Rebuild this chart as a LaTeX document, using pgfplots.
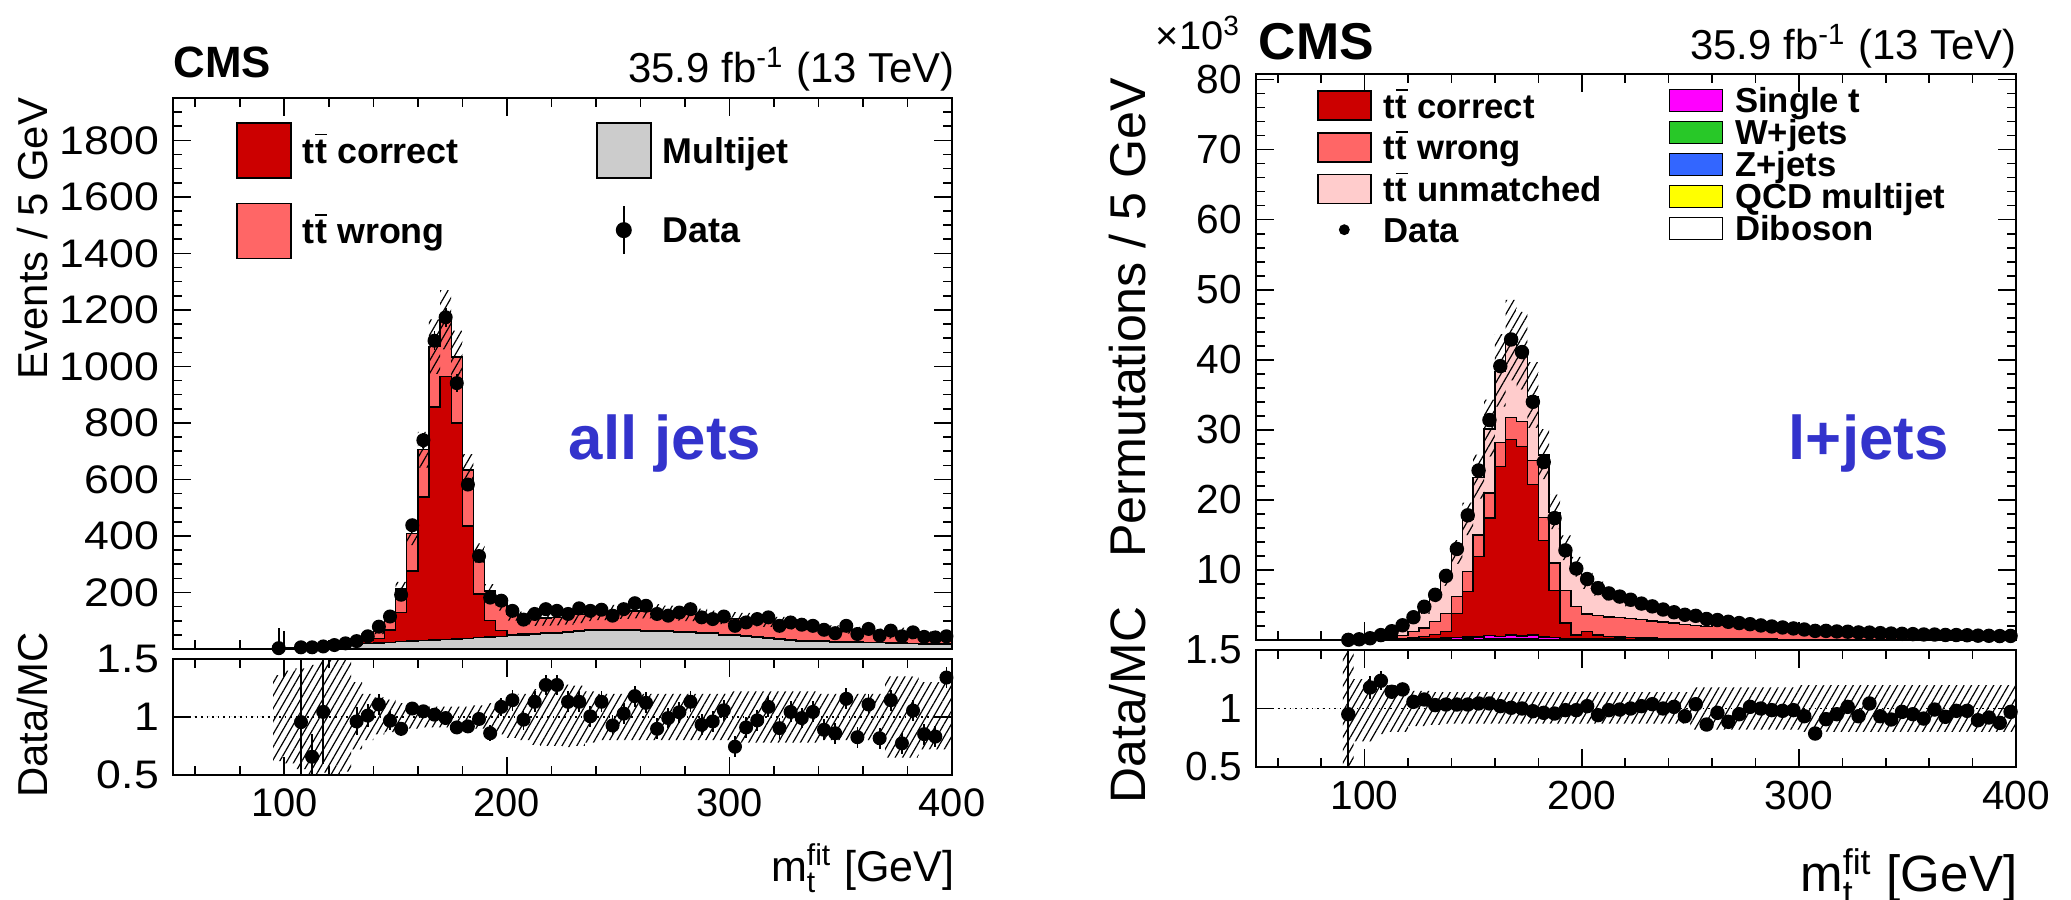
\documentclass[border=0pt]{standalone}
\usepackage{fontspec}
\setmainfont{Liberation Sans}
\usepackage{amsmath}
\usepackage{graphicx}
\usepackage{pgfplots}
\pgfplotsset{compat=1.18}
\usepackage{pgfplotstable}
\usetikzlibrary{patterns.meta}

\definecolor{ttcor}{RGB}{204,0,0}
\definecolor{ttwr}{RGB}{255,102,102}
\definecolor{ttun}{RGB}{255,204,204}
\definecolor{mj}{RGB}{204,204,204}
\definecolor{cmsblue}{RGB}{51,51,204}
\definecolor{sgt}{RGB}{255,0,255}
\definecolor{wj}{RGB}{40,200,40}
\definecolor{zj}{RGB}{51,102,255}
\definecolor{qcd}{RGB}{255,255,0}

% ---------------- all jets: stack (cumulative tops) ----------------
\pgfplotstableread{
x T C M lo hi
50 0 0 0 1 1
95 2 2 2 0.62 1.36
100 4 3 3 0.60 1.40
105 6 5 5 0.55 1.42
110 9 8 7 0.50 1.45
115 9 8 7 0.52 1.50
120 13 11 10 0.50 1.50
125 19 16 13 0.53 1.50
130 29 23 17 0.72 1.30
135 44 32 19 0.80 1.20
140 62 37 21 0.85 1.17
145 118 67 23 0.87 1.15
150 212 129 26 0.89 1.12
155 408 276 28 0.90 1.10
160 705 538 30 0.91 1.09
165 1070 857 32 0.91 1.09
170 1165 965 34 0.91 1.09
175 1034 800 36 0.91 1.09
180 633 435 38 0.91 1.09
185 340 194 40 0.90 1.10
190 205 100 42 0.88 1.12
195 160 65 44 0.85 1.15
200 122 52 47 0.82 1.18
205 110 54 50 0.80 1.20
210 108 55 52 0.76 1.24
215 110 57 54 0.75 1.27
220 112 59 56 0.75 1.27
225 116 62 60 0.74 1.28
230 122 65 63 0.75 1.27
235 126 67 65 0.78 1.22
240 128 68 66 0.80 1.20
245 130 69 67 0.80 1.20
250 133 68 66 0.80 1.20
255 135 67 65 0.80 1.20
260 135 66 64 0.80 1.20
265 132 65 63 0.80 1.20
270 128 64 62 0.80 1.20
275 125 62 60 0.80 1.20
280 123 61 59 0.80 1.20
285 119 59 57 0.80 1.20
290 113 56 54 0.80 1.20
295 110 52 50 0.80 1.20
300 107 49 47 0.78 1.22
305 105 46 44 0.78 1.22
310 103 42 40 0.78 1.22
315 100 39 37 0.78 1.22
320 93 36 34 0.78 1.22
325 89 33 31 0.78 1.22
330 86 31 29 0.78 1.22
335 80 29 27 0.78 1.22
340 76 28 26 0.80 1.20
345 70 27 25 0.80 1.20
350 68 26 24 0.80 1.20
355 65 25 24 0.80 1.20
360 63 24 23 0.80 1.20
365 60 23 22 0.80 1.20
370 57 22 21 0.65 1.35
375 56 21 20 0.65 1.35
380 54 20 19 0.65 1.35
385 51 19 18 0.72 1.30
390 48 18 17 0.72 1.30
395 45 17 16 0.72 1.30
400 45 17 16 0.72 1.30
}\lefttab

\pgfplotstableread{
x y ep em
97.5 3 70 3
107.5 6 3 3
112.5 6 3 3
117.5 9 3 3
122.5 14 4 4
127.5 20 5 5
132.5 28 5 5
137.5 45 7 7
142.5 79 9 9
147.5 115 11 11
152.5 192 14 14
157.5 438 21 21
162.5 739 27 27
167.5 1091 33 33
172.5 1174 34 34
177.5 941 31 31
182.5 582 24 24
187.5 329 18 18
192.5 182 13 13
197.5 171 13 13
202.5 135 12 12
207.5 104 10 10
212.5 124 11 11
217.5 141 12 12
222.5 135 12 12
227.5 124 11 11
232.5 144 12 12
237.5 135 12 12
242.5 139 12 12
247.5 118 11 11
252.5 141 12 12
257.5 162 13 13
262.5 153 12 12
267.5 124 11 11
272.5 118 11 11
277.5 129 11 11
282.5 141 12 12
287.5 112 11 11
292.5 106 10 10
297.5 115 11 11
302.5 82 9 9
307.5 94 10 10
312.5 106 10 10
317.5 112 11 11
322.5 82 9 9
327.5 94 10 10
332.5 86 9 9
337.5 82 9 9
342.5 68 8 8
347.5 56 7 7
352.5 82 9 9
357.5 53 7 7
362.5 71 8 8
367.5 47 7 7
372.5 65 8 8
377.5 45 7 7
382.5 59 8 8
387.5 43 7 7
392.5 41 6 6
397.5 45 7 7
}\leftdata

\pgfplotstableread{
x y e
107.5 0.956 0.60
112.5 0.657 0.20
117.5 1.044 0.45
132.5 0.962 0.12
137.5 1.012 0.10
142.5 1.108 0.09
147.5 0.968 0.08
152.5 0.898 0.06
157.5 1.073 0.05
162.5 1.049 0.04
167.5 1.020 0.04
172.5 0.991 0.04
177.5 0.910 0.04
182.5 0.919 0.05
187.5 0.983 0.06
192.5 0.860 0.07
197.5 1.087 0.08
202.5 1.145 0.09
207.5 0.977 0.09
212.5 1.131 0.09
217.5 1.276 0.09
222.5 1.276 0.09
227.5 1.131 0.09
232.5 1.131 0.09
237.5 1.006 0.09
242.5 1.131 0.09
247.5 0.927 0.09
252.5 1.029 0.09
257.5 1.180 0.09
262.5 1.122 0.09
267.5 0.898 0.09
272.5 0.991 0.09
277.5 1.041 0.09
282.5 1.131 0.09
287.5 0.933 0.09
292.5 0.962 0.09
297.5 1.058 0.09
302.5 0.744 0.09
307.5 0.910 0.09
312.5 0.971 0.09
317.5 1.087 0.09
322.5 0.904 0.09
327.5 1.044 0.09
332.5 0.991 0.09
337.5 1.044 0.09
342.5 0.890 0.09
347.5 0.860 0.09
352.5 1.157 0.09
357.5 0.826 0.09
362.5 1.108 0.09
367.5 0.817 0.09
372.5 1.145 0.09
377.5 0.773 0.09
382.5 1.055 0.09
387.5 0.852 0.09
392.5 0.831 0.09
397.5 1.340 0.09
}\leftratio

% ---------------- l+jets: stack (cumulative tops, x10^3) ----------------
\pgfplotstableread{
x T W C S Q lo hi
50 0 0 0 0 0 1 1
90 0.05 0.02 0.01 0.01 0 0.50 1.50
95 0.15 0.06 0.02 0.01 0 0.72 1.25
100 0.21 0.08 0.03 0.02 0 0.72 1.25
105 0.57 0.20 0.06 0.03 0.01 0.78 1.22
110 1.10 0.40 0.12 0.05 0.02 0.80 1.20
115 1.80 0.65 0.22 0.08 0.03 0.80 1.20
120 3.05 1.20 0.35 0.12 0.04 0.85 1.15
125 4.40 1.70 0.50 0.18 0.05 0.85 1.15
130 6.30 2.60 0.75 0.25 0.07 0.86 1.14
135 8.90 3.80 1.20 0.30 0.10 0.87 1.14
140 12.5 6.20 3.80 0.35 0.10 0.87 1.14
145 17.2 9.80 6.90 0.40 0.12 0.87 1.14
150 23.2 15.0 11.9 0.45 0.10 0.87 1.14
155 30.1 21.0 17.4 0.65 0.20 0.87 1.14
160 38.3 28.2 24.8 0.50 0.15 0.87 1.14
165 42.6 31.8 28.6 0.70 0.20 0.87 1.14
170 41.1 31.2 27.6 0.55 0.15 0.87 1.14
175 34.8 25.6 22.2 0.70 0.20 0.87 1.14
180 26.4 17.5 14.2 0.45 0.10 0.87 1.14
185 18.2 11.0 7.10 0.35 0.10 0.87 1.14
190 13.1 7.10 2.40 0.25 0.05 0.87 1.14
195 10.4 4.80 0.70 0.20 0.05 0.87 1.14
200 8.40 3.70 1.20 0.20 0.05 0.87 1.14
205 7.30 3.50 0.70 0.15 0.05 0.87 1.14
210 6.50 3.30 0.50 0.12 0.04 0.87 1.14
215 6.00 3.20 0.40 0.12 0.04 0.87 1.14
220 5.50 3.10 0.35 0.10 0.03 0.87 1.14
225 5.00 2.90 0.30 0.10 0.03 0.87 1.14
230 4.60 2.70 0.28 0.10 0.03 0.87 1.14
235 4.20 2.55 0.25 0.10 0.03 0.87 1.14
240 3.85 2.40 0.22 0.08 0.03 0.87 1.14
245 3.55 2.25 0.20 0.08 0.03 0.87 1.14
250 3.30 2.10 0.20 0.08 0.03 0.82 1.18
255 3.05 1.95 0.18 0.08 0.06 0.82 1.18
260 2.80 2.20 0.17 0.07 0.03 0.82 1.18
265 2.58 2.05 0.16 0.07 0.06 0.82 1.18
270 2.38 1.90 0.15 0.07 0.03 0.82 1.18
275 2.20 1.77 0.14 0.06 0.03 0.82 1.18
280 2.03 1.65 0.13 0.06 0.03 0.82 1.18
285 1.88 1.54 0.12 0.06 0.03 0.82 1.18
290 1.74 1.44 0.11 0.05 0.02 0.82 1.18
295 1.61 1.34 0.10 0.05 0.02 0.82 1.18
300 1.49 1.24 0.10 0.05 0.02 0.80 1.20
305 1.38 1.15 0.09 0.05 0.05 0.80 1.20
310 1.29 1.07 0.09 0.04 0.02 0.80 1.20
315 1.21 1.00 0.08 0.04 0.02 0.80 1.20
320 1.14 0.94 0.08 0.04 0.02 0.80 1.20
325 1.08 0.89 0.07 0.04 0.02 0.80 1.20
330 1.02 0.84 0.07 0.03 0.02 0.80 1.20
335 0.97 0.80 0.06 0.03 0.01 0.80 1.20
340 0.92 0.76 0.06 0.03 0.01 0.80 1.20
345 0.87 0.72 0.06 0.03 0.01 0.80 1.20
350 0.83 0.68 0.05 0.03 0.01 0.80 1.20
355 0.79 0.65 0.05 0.03 0.01 0.80 1.20
360 0.76 0.62 0.05 0.02 0.01 0.80 1.20
365 0.73 0.59 0.05 0.02 0.01 0.80 1.20
370 0.70 0.56 0.04 0.02 0.01 0.80 1.20
375 0.67 0.54 0.04 0.02 0.01 0.80 1.20
380 0.64 0.51 0.04 0.02 0.01 0.80 1.20
385 0.62 0.49 0.04 0.02 0.01 0.80 1.20
390 0.60 0.47 0.04 0.02 0.01 0.80 1.20
395 0.58 0.45 0.04 0.02 0.01 0.80 1.20
400 0.58 0.45 0.04 0.02 0.01 0.80 1.20
}\righttab

\pgfplotstableread{
x y
92.5 0.02
97.5 0.10
102.5 0.25
107.5 0.70
112.5 1.25
117.5 2.10
122.5 3.25
127.5 4.75
132.5 6.45
137.5 9.15
142.5 13.0
147.5 17.8
152.5 24.2
157.5 31.4
162.5 39.1
167.5 42.9
172.5 41.1
177.5 34.0
182.5 25.4
187.5 17.4
192.5 12.8
197.5 10.2
202.5 8.70
207.5 7.40
212.5 6.65
217.5 6.20
222.5 5.75
227.5 5.20
232.5 4.80
237.5 4.35
242.5 3.96
247.5 3.60
252.5 3.45
257.5 3.00
262.5 2.85
267.5 2.60
272.5 2.42
277.5 2.26
282.5 2.08
287.5 1.93
292.5 1.79
297.5 1.65
302.5 1.50
307.5 1.30
312.5 1.30
317.5 1.22
322.5 1.18
327.5 1.08
332.5 1.06
337.5 0.98
342.5 0.92
347.5 0.88
352.5 0.84
357.5 0.79
362.5 0.78
367.5 0.72
372.5 0.71
377.5 0.68
382.5 0.62
387.5 0.60
392.5 0.56
397.5 0.58
}\rightdata

\pgfplotstableread{
x y e
92.5 0.951 0.60
102.5 1.180 0.10
107.5 1.237 0.08
112.5 1.143 0.05
117.5 1.163 0.05
122.5 1.057 0.03
127.5 1.077 0.03
132.5 1.029 0.02
137.5 1.034 0.02
142.5 1.034 0.02
147.5 1.034 0.02
152.5 1.043 0.02
157.5 1.043 0.02
162.5 1.020 0.02
167.5 1.006 0.02
172.5 1.000 0.02
177.5 0.977 0.02
182.5 0.963 0.02
187.5 0.957 0.02
192.5 0.986 0.02
197.5 0.986 0.02
202.5 1.020 0.02
207.5 0.943 0.02
212.5 0.986 0.02
217.5 0.991 0.02
222.5 1.000 0.02
227.5 1.020 0.02
232.5 1.037 0.02
237.5 1.000 0.02
242.5 1.014 0.02
247.5 0.934 0.02
252.5 1.037 0.02
257.5 0.863 0.02
262.5 0.963 0.02
267.5 0.886 0.02
272.5 0.951 0.02
277.5 1.014 0.02
282.5 1.000 0.02
287.5 0.986 0.02
292.5 0.980 0.02
297.5 0.986 0.02
302.5 0.934 0.02
307.5 0.786 0.03
312.5 0.909 0.03
317.5 0.951 0.03
322.5 1.014 0.03
327.5 0.934 0.03
332.5 1.043 0.03
337.5 0.934 0.03
342.5 0.906 0.03
347.5 0.971 0.03
352.5 0.951 0.03
357.5 0.914 0.03
362.5 0.991 0.03
367.5 0.929 0.03
372.5 0.980 0.03
377.5 0.980 0.03
382.5 0.900 0.03
387.5 0.923 0.03
392.5 0.877 0.04
397.5 0.971 0.04
}\rightratio

\pgfplotsset{
  cmsaxis/.style={
    scale only axis, xmin=50, xmax=400, clip=true,
    axis line style={line width=0.55bp},
    every tick/.style={black, line width=0.4bp},
    major tick length=4.5bp, minor tick length=2.3bp,
    tick align=inside,
    xtick={100,200,300,400},
    minor xtick={60,80,120,140,160,180,220,240,260,280,320,340,360,380},
    /pgf/number format/assume math mode=true,
    /pgf/number format/1000 sep={},
    scaled y ticks=false,
  },
  bandaxis/.style={scale only axis, hide axis, xmin=50, xmax=400, clip=true, stack plots=y},
  hatch/.style={pattern={Lines[angle=60,distance=1.6bp,line width=0.3bp]}, pattern color=black, draw=none},
  stk/.style={forget plot, const plot mark left, draw=black, line width=0.35bp, fill=#1},
  boxleg/.style n args={3}{legend image code/.code={\draw[fill=#1, draw=black, line width=0.4bp] (0bp,-#3) rectangle (#2,#3);}},
  legL/.style={legend cell align=left, legend style={draw=none, fill=none, inner sep=0pt, outer sep=0pt, anchor=north west, row sep=6bp,
      font=\fontsize{9}{9}\selectfont\bfseries,
      nodes={inner sep=0pt, anchor=west, text height=6.9bp, text depth=0.5bp},
      /tikz/every odd column/.append style={column sep=2.75bp}}},
  legR/.style={legend cell align=left, legend style={draw=none, fill=none, inner sep=0pt, outer sep=0pt, anchor=north west, row sep=#1,
      font=\fontsize{8.7}{8.7}\selectfont\bfseries,
      nodes={inner sep=0pt, anchor=west, text height=6.7bp, text depth=0.5bp},
      /tikz/every odd column/.append style={column sep=3bp}}},
}

\newcommand{\ttb}{t\kern0.02em$\overline{\mbox{t}}$}

\begin{document}
\begin{tikzpicture}
\useasboundingbox (0,0) rectangle (517.75bp,225bp);

% ================= LEFT: all jets, main =================
\begin{axis}[cmsaxis, at={(43.25bp,62.75bp)}, anchor=south west,
  width=194.75bp, height=137.75bp,
  ymin=0, ymax=1950,
  ytick={200,400,...,1800},
  minor ytick={50,100,...,1950},
  xticklabels={},
  yticklabel={\scalebox{1.12}[1]{\pgfmathprintnumber{\tick}}},
  tick label style={font=\fontsize{10}{10}\selectfont},
  ylabel={Events / 5 GeV},
  ylabel style={font=\fontsize{10.5}{10.5}\selectfont, inner sep=0pt,
    at={(axis description cs:-0.2015,1.0018)}, anchor=north east},
  legL, legend style={at={(0.0809,0.9564)}},
]
\addplot[stk=ttwr] table[x=x,y=T]{\lefttab} \closedcycle;
\addplot[stk=ttcor] table[x=x,y=C]{\lefttab} \closedcycle;
\addplot[stk=mj] table[x=x,y=M]{\lefttab} \closedcycle;
\addplot[forget plot, only marks, mark=*, mark size=1.55bp, black,
  error bars/.cd, y dir=both, y explicit, error mark=none, error bar style={line width=0.45bp}]
  table[x=x,y=y,y error plus=ep,y error minus=em]{\leftdata};
\addlegendimage{boxleg={ttcor}{13.5bp}{6.875bp}}
\addlegendentry{\ttb\ correct}
\addlegendimage{boxleg={ttwr}{13.5bp}{6.875bp}}
\addlegendentry{\ttb\ wrong}
\end{axis}

% hatched MC uncertainty band (left main)
\begin{axis}[bandaxis, at={(43.25bp,62.75bp)}, anchor=south west,
  width=194.75bp, height=137.75bp, ymin=0, ymax=1950]
\addplot[draw=none, const plot mark left] table[x=x, y expr=\thisrow{T}*\thisrow{lo}]{\lefttab};
\addplot[hatch, const plot mark left] table[x=x, y expr=\thisrow{T}*(\thisrow{hi}-\thisrow{lo})]{\lefttab} \closedcycle;
\end{axis}

% legend column 2 (left)
\begin{axis}[at={(43.25bp,62.75bp)}, anchor=south west, scale only axis,
  width=194.75bp, height=137.75bp, hide axis, xmin=0,xmax=1,ymin=0,ymax=1,
  legL, legend style={at={(0.543,0.9564)}}]
\addplot[forget plot, draw=none] coordinates {(0,0) (1,1)};
\addlegendimage{boxleg={mj}{13.5bp}{6.875bp}}
\addlegendentry{Multijet}
\addlegendimage{legend image code/.code={\path[draw=none,fill=none] (0bp,-6.875bp) rectangle (13.5bp,6.875bp);
   \draw[black, line width=0.5bp] (6.75bp,-6bp) -- (6.75bp,6bp);
   \fill[black] (6.75bp,0bp) circle[radius=1.8bp];}}
\addlegendentry{Data}
\end{axis}

% ================= LEFT: ratio =================
\begin{axis}[cmsaxis, at={(43.25bp,31.25bp)}, anchor=south west,
  width=194.75bp, height=29bp,
  ymin=0.5, ymax=1.5, ytick={0.5,1,1.5},
  yticklabel={\scalebox{1.12}[1]{\pgfmathprintnumber{\tick}}},
  tick label style={font=\fontsize{10}{10}\selectfont},
  ylabel={Data/MC},
  ylabel style={font=\fontsize{10.5}{10.5}\selectfont, inner sep=0pt,
    at={(axis description cs:-0.2015,0.517)}, anchor=north},
  xlabel={m$_{\text{t}}^{\text{fit}}$ [GeV]},
  xlabel style={font=\fontsize{10.8}{10.8}\selectfont, inner sep=0pt,
    at={(axis description cs:1.004,-0.586)}, anchor=north east},
]
\addplot[forget plot, densely dotted, line width=0.4bp] coordinates {(50,1) (400,1)};
\addplot[forget plot, only marks, mark=*, mark size=1.55bp, black,
  error bars/.cd, y dir=both, y explicit, error mark=none, error bar style={line width=0.45bp}]
  table[x=x,y=y,y error=e]{\leftratio};
\end{axis}
\begin{axis}[bandaxis, at={(43.25bp,31.25bp)}, anchor=south west,
  width=194.75bp, height=29bp, ymin=0.5, ymax=1.5]
\addplot[draw=none, const plot mark left] table[x=x, y=lo]{\lefttab};
\addplot[hatch, const plot mark left] table[x=x, y expr=\thisrow{hi}-\thisrow{lo}]{\lefttab} \closedcycle;
\end{axis}

% ================= RIGHT: l+jets, main =================
\begin{axis}[cmsaxis, at={(314bp,65bp)}, anchor=south west,
  width=190bp, height=141.5bp,
  ymin=0, ymax=80.8,
  ytick={10,20,...,80},
  minor ytick={2,4,...,80},
  xticklabels={},
  tick label style={font=\fontsize{10.2}{10.2}\selectfont},
  ylabel={Permutations / 5 GeV},
  ylabel style={font=\fontsize{12.6}{12.6}\selectfont, inner sep=0pt,
    at={(axis description cs:-0.1937,0.9947)}, anchor=north east},
  legR=2.75bp, legend style={at={(0.0804,0.971)}},
]
\addplot[stk=ttun] table[x=x,y=T]{\righttab} \closedcycle;
\addplot[stk=ttwr] table[x=x,y=W]{\righttab} \closedcycle;
\addplot[stk=ttcor] table[x=x,y=C]{\righttab} \closedcycle;
\addplot[stk=sgt] table[x=x,y=S]{\righttab} \closedcycle;
\addplot[stk=qcd] table[x=x,y=Q]{\righttab} \closedcycle;
\addplot[forget plot, only marks, mark=*, mark size=1.6bp, black] table[x=x,y=y]{\rightdata};
\addlegendimage{boxleg={ttcor}{13.25bp}{3.625bp}}
\addlegendentry{\ttb\ correct}
\addlegendimage{boxleg={ttwr}{13.25bp}{3.625bp}}
\addlegendentry{\ttb\ wrong}
\addlegendimage{boxleg={ttun}{13.25bp}{3.625bp}}
\addlegendentry{\ttb\ unmatched}
\addlegendimage{legend image code/.code={\path[draw=none,fill=none] (0bp,-3.625bp) rectangle (13.25bp,3.625bp);
   \fill[black] (6.6bp,0bp) circle[radius=1.15bp];}}
\addlegendentry{Data}
\end{axis}

\begin{axis}[bandaxis, at={(314bp,65bp)}, anchor=south west,
  width=190bp, height=141.5bp, ymin=0, ymax=80.8]
\addplot[draw=none, const plot mark left] table[x=x, y expr=\thisrow{T}*\thisrow{lo}]{\righttab};
\addplot[hatch, const plot mark left] table[x=x, y expr=\thisrow{T}*(\thisrow{hi}-\thisrow{lo})]{\righttab} \closedcycle;
\end{axis}

% legend column 2 (right)
\begin{axis}[at={(314bp,65bp)}, anchor=south west, scale only axis,
  width=190bp, height=141.5bp, hide axis, xmin=0,xmax=1,ymin=0,ymax=1,
  legR=0.8bp, legend style={at={(0.5428,0.9788)}}]
\addplot[forget plot, draw=none] coordinates {(0,0) (1,1)};
\addlegendimage{boxleg={sgt}{13.25bp}{2.75bp}}
\addlegendentry{Single t}
\addlegendimage{boxleg={wj}{13.25bp}{2.75bp}}
\addlegendentry{W+jets}
\addlegendimage{boxleg={zj}{13.25bp}{2.75bp}}
\addlegendentry{Z+jets}
\addlegendimage{boxleg={qcd}{13.25bp}{2.75bp}}
\addlegendentry{QCD multijet}
\addlegendimage{boxleg={white}{13.25bp}{2.75bp}}
\addlegendentry{Diboson}
\end{axis}

% ================= RIGHT: ratio =================
\begin{axis}[cmsaxis, at={(314bp,33.25bp)}, anchor=south west,
  width=190bp, height=29.25bp,
  ymin=0.5, ymax=1.5, ytick={0.5,1,1.5},
  tick label style={font=\fontsize{10.2}{10.2}\selectfont},
  ylabel={Data/MC},
  ylabel style={font=\fontsize{12.5}{12.5}\selectfont, inner sep=0pt,
    at={(axis description cs:-0.1937,0.53)}, anchor=north},
  xlabel={m$_{\text{t}}^{\text{fit}}$ [GeV]},
  xlabel style={font=\fontsize{12.8}{12.8}\selectfont, inner sep=0pt,
    at={(axis description cs:1.0026,-0.692)}, anchor=north east},
]
\addplot[forget plot, densely dotted, line width=0.4bp] coordinates {(50,1) (400,1)};
\addplot[forget plot, only marks, mark=*, mark size=1.6bp, black,
  error bars/.cd, y dir=both, y explicit, error mark=none, error bar style={line width=0.45bp}]
  table[x=x,y=y,y error=e]{\rightratio};
\end{axis}
\begin{axis}[bandaxis, at={(314bp,33.25bp)}, anchor=south west,
  width=190bp, height=29.25bp, ymin=0.5, ymax=1.5]
\addplot[draw=none, const plot mark left] table[x=x, y=lo]{\righttab};
\addplot[hatch, const plot mark left] table[x=x, y expr=\thisrow{hi}-\thisrow{lo}]{\righttab} \closedcycle;
\end{axis}

% ================= texts =================
\node[anchor=base west, inner sep=0pt, font=\fontsize{11}{11}\selectfont\bfseries] at (43.25bp,205.5bp) {CMS};
\node[anchor=base east, inner sep=0pt, font=\fontsize{10.5}{10.5}\selectfont] at (238.75bp,204.25bp) {35.9 fb\textsuperscript{-1} (13 TeV)};
\node[anchor=base west, inner sep=0pt, font=\fontsize{15.5}{15.5}\selectfont\bfseries, text=cmsblue] at (142bp,110bp) {all jets};

\node[anchor=base west, inner sep=0pt, font=\fontsize{10}{10}\selectfont] at (288.75bp,212.5bp) {×10\textsuperscript{3}};
\node[anchor=base west, inner sep=0pt, font=\fontsize{13}{13}\selectfont\bfseries] at (314.5bp,210bp) {CMS};
\node[anchor=base east, inner sep=0pt, font=\fontsize{10.5}{10.5}\selectfont] at (504.25bp,210bp) {35.9 fb\textsuperscript{-1} (13 TeV)};
\node[anchor=base west, inner sep=0pt, font=\fontsize{15.5}{15.5}\selectfont\bfseries, text=cmsblue] at (447bp,110bp) {l+jets};
\end{tikzpicture}
\end{document}
